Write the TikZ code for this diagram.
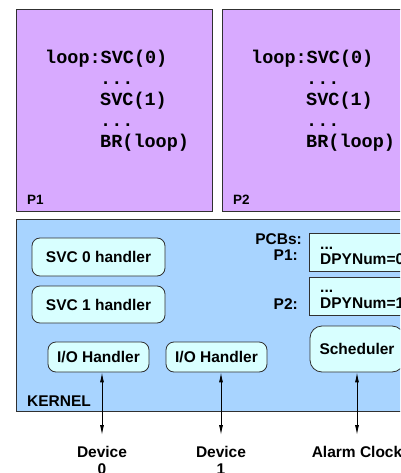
\documentclass[tikz,border=0pt]{standalone}
\usepackage{fontspec}
\setmainfont{Liberation Sans}
\newfontfamily\codefont{Liberation Mono}
\usetikzlibrary{arrows.meta}
\definecolor{procfill}{HTML}{D8AAFF}
\definecolor{kernfill}{HTML}{A8D4FF}
\definecolor{boxfill}{HTML}{D8FFFF}
\definecolor{edge}{HTML}{303030}
\def\sflab{\fontsize{15.5}{17}\selectfont\bfseries}
\def\sfsmall{\fontsize{13.5}{15}\selectfont\bfseries}
\def\codelab{\codefont\fontsize{18.5}{21}\selectfont\bfseries}
\begin{document}
\begin{tikzpicture}[x=1pt,y=-1pt,
  proc/.style={draw=edge, line width=1pt, fill=procfill, anchor=north west, inner sep=0pt, minimum width=196pt, minimum height=202pt},
  kern/.style={draw=edge, line width=1pt, fill=kernfill, anchor=north west, inner sep=0pt, minimum width=400pt, minimum height=192pt},
  hbox/.style={draw=edge, line width=0.8pt, fill=boxfill, rounded corners=8pt, inner sep=0pt, font=\sflab},
  pcb/.style={draw=edge, line width=0.8pt, fill=boxfill, anchor=north west, inner sep=0pt, minimum width=100pt, minimum height=38pt},
  lab/.style={inner sep=0pt, font=\sflab},
  small/.style={inner sep=0pt, font=\sfsmall},
  code/.style={inner sep=0pt, anchor=base west, font=\codelab},
  dev/.style={inner sep=0pt, anchor=north, align=center, font=\sflab},
  arr/.style={line width=0.9pt, {Latex[length=10pt,width=4pt]}-{Latex[length=10pt,width=4pt]}}
]
\useasboundingbox (0,0) rectangle (400,473);
\clip (0,0) rectangle (400,473);

% process boxes
\node[proc] (p1) at (16,9) {};
\node[proc] (p2) at (222,9) {};
\node[small, anchor=base west] (p1lab) at (27,204) {P1};
\node[small, anchor=base west] (p2lab) at (233,204) {P2};

\foreach \dx/\nm in {0/a,206/b}{
  \node[code] (loop\nm) at (45+\dx,64) {loop:SVC(0)};
  \node[code] (dotsa\nm) at (100+\dx,85) {...};
  \node[code] (svc\nm) at (100+\dx,106) {SVC(1)};
  \node[code] (dotsb\nm) at (100+\dx,127) {...};
  \node[code] (br\nm) at (100+\dx,148) {BR(loop)};
}

% kernel
\node[kern] (kernel) at (16,219) {};
\node[lab, anchor=base west] (kernlab) at (27,406) {KERNEL};

\node[hbox, minimum width=133pt, minimum height=38pt] (svc0) at (98.5,257) {SVC 0 handler};
\node[hbox, minimum width=133pt, minimum height=37pt] (svc1) at (98.5,304.5) {SVC 1 handler};
\node[hbox, minimum width=101pt, minimum height=30pt] (io1) at (98.5,357) {I/O Handler};
\node[hbox, minimum width=101pt, minimum height=30pt] (io2) at (216.5,357) {I/O Handler};
\node[hbox, rounded corners=12pt, minimum width=94pt, minimum height=46pt] (sched) at (357,349) {Scheduler};

\node[lab, anchor=base east] (pcbs) at (302,244) {PCBs:};
\node[lab, anchor=base east] (pcbp1) at (298,260) {P1:};
\node[lab, anchor=base east] (pcbp2) at (298,309) {P2:};
\node[pcb] (pcb1) at (309,233) {};
\node[pcb] (pcb2) at (309,277) {};
\node[lab, anchor=base west] (pcb1a) at (320,249) {...};
\node[lab, anchor=base west] (pcb1b) at (320,264) {DPYNum=0};
\node[lab, anchor=base west] (pcb2a) at (320,292) {...};
\node[lab, anchor=base west] (pcb2b) at (320,308) {DPYNum=1};

% devices
\node[dev] (dev0) at (102,446) {Device\\0};
\node[dev] (dev1) at (221,446) {Device\\1};
\node[dev] (clock) at (357,446) {Alarm Clock};

\draw[arr] ([yshift=11pt]dev0.north) -- (dev0.north |- io1.south);
\draw[arr] ([yshift=11pt]dev1.north) -- (dev1.north |- io2.south);
\draw[arr] ([yshift=11pt]clock.north) -- (clock.north |- sched.south);
\end{tikzpicture}
\end{document}
